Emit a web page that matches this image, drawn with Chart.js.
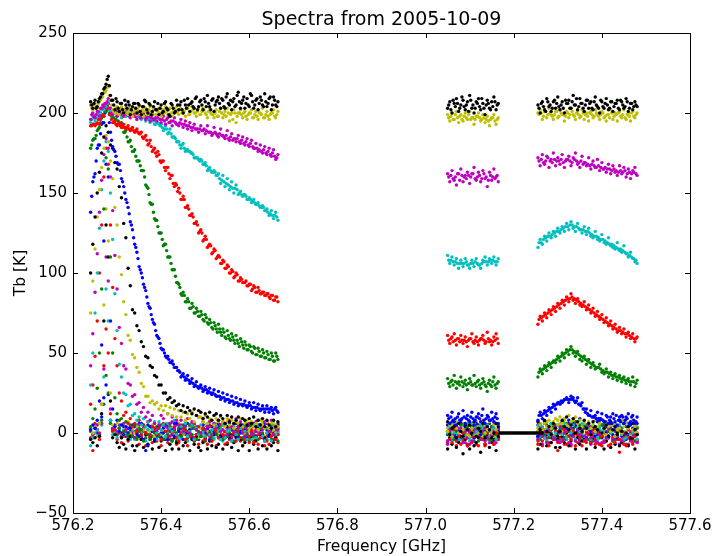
<!DOCTYPE html>
<html lang="en">
<head>
  <meta charset="UTF-8">
  <title>Spectra from 2005-10-09</title>
  <style>
    html, body { margin: 0; padding: 0; background: #fff; }
    #wrap { width: 713px; height: 556px; }
  </style>
</head>
<body>
  <div id="wrap"><canvas id="spectraChart" width="713" height="556"></canvas></div>

  <script src="https://cdn.jsdelivr.net/npm/chart.js"></script>
  <script>
    // frequency channels [GHz] of the three sub-bands
    const FREQ_LEFT = [
      576.240, 576.245, 576.250, 576.255, 576.260, 576.265, 576.270, 576.275, 576.280, 576.285,
      576.290, 576.295, 576.300, 576.305, 576.310, 576.315, 576.320, 576.325, 576.330, 576.335,
      576.340, 576.345, 576.350, 576.355, 576.360, 576.365, 576.370, 576.375, 576.380, 576.385,
      576.390, 576.395, 576.400, 576.405, 576.410, 576.415, 576.420, 576.425, 576.430, 576.435,
      576.440, 576.445, 576.450, 576.455, 576.460, 576.465, 576.470, 576.475, 576.480, 576.485,
      576.490, 576.495, 576.500, 576.505, 576.510, 576.515, 576.520, 576.525, 576.530, 576.535,
      576.540, 576.545, 576.550, 576.555, 576.560, 576.565, 576.570, 576.575, 576.580, 576.585,
      576.590, 576.595, 576.600, 576.605, 576.610, 576.615, 576.620, 576.625, 576.630, 576.635,
      576.640, 576.645, 576.650, 576.655, 576.660, 576.665
    ];
    const FREQ_B1 = [
      577.050, 577.055, 577.060, 577.065, 577.070, 577.075, 577.080, 577.085, 577.090, 577.095,
      577.100, 577.105, 577.110, 577.115, 577.120, 577.125, 577.130, 577.135, 577.140, 577.145,
      577.150, 577.155, 577.160, 577.165
    ];
    const FREQ_B2 = [
      577.255, 577.260, 577.265, 577.270, 577.275, 577.280, 577.285, 577.290, 577.295, 577.300,
      577.305, 577.310, 577.315, 577.320, 577.325, 577.330, 577.335, 577.340, 577.345, 577.350,
      577.355, 577.360, 577.365, 577.370, 577.375, 577.380, 577.385, 577.390, 577.395, 577.400,
      577.405, 577.410, 577.415, 577.420, 577.425, 577.430, 577.435, 577.440, 577.445, 577.450,
      577.455, 577.460, 577.465, 577.470, 577.475, 577.480
    ];
    // in-between channels, only read for the strong spectra
    const FREQ_LEFT_H = [
      576.2425, 576.2475, 576.2525, 576.2575, 576.2625, 576.2675, 576.2725, 576.2775, 576.2825, 576.2875,
      576.2925, 576.2975, 576.3025, 576.3075, 576.3125, 576.3175, 576.3225, 576.3275, 576.3325, 576.3375,
      576.3425, 576.3475, 576.3525, 576.3575, 576.3625, 576.3675, 576.3725, 576.3775, 576.3825, 576.3875,
      576.3925, 576.3975, 576.4025, 576.4075, 576.4125, 576.4175, 576.4225, 576.4275, 576.4325, 576.4375,
      576.4425, 576.4475, 576.4525, 576.4575, 576.4625, 576.4675, 576.4725, 576.4775, 576.4825, 576.4875,
      576.4925, 576.4975, 576.5025, 576.5075, 576.5125, 576.5175, 576.5225, 576.5275, 576.5325, 576.5375,
      576.5425, 576.5475, 576.5525, 576.5575, 576.5625, 576.5675, 576.5725, 576.5775, 576.5825, 576.5875,
      576.5925, 576.5975, 576.6025, 576.6075, 576.6125, 576.6175, 576.6225, 576.6275, 576.6325, 576.6375,
      576.6425, 576.6475, 576.6525, 576.6575, 576.6625
    ];
    const FREQ_B1_H = [
      577.0525, 577.0575, 577.0625, 577.0675, 577.0725, 577.0775, 577.0825, 577.0875, 577.0925, 577.0975,
      577.1025, 577.1075, 577.1125, 577.1175, 577.1225, 577.1275, 577.1325, 577.1375, 577.1425, 577.1475,
      577.1525, 577.1575, 577.1625
    ];
    const FREQ_B2_H = [
      577.2575, 577.2625, 577.2675, 577.2725, 577.2775, 577.2825, 577.2875, 577.2925, 577.2975, 577.3025,
      577.3075, 577.3125, 577.3175, 577.3225, 577.3275, 577.3325, 577.3375, 577.3425, 577.3475, 577.3525,
      577.3575, 577.3625, 577.3675, 577.3725, 577.3775, 577.3825, 577.3875, 577.3925, 577.3975, 577.4025,
      577.4075, 577.4125, 577.4175, 577.4225, 577.4275, 577.4325, 577.4375, 577.4425, 577.4475, 577.4525,
      577.4575, 577.4625, 577.4675, 577.4725, 577.4775
    ];

    // black bar at 0 K between the two upper sub-bands
    const LINE_X = [577.165, 577.265];
    const LINE_Y = [0, 0];

    const X_TICKS = [576.2, 576.4, 576.6, 576.8, 577.0, 577.2, 577.4, 577.6];
    const Y_TICKS = [-50, 0, 50, 100, 150, 200, 250];

    // ---- narrowest spectra (cycle C) ----
    const C_b_left = [3, -1, 4, 0, 6, 10, 22, 30, 24, 8,
      2, 5, -1, 3, 0, 4, -2, 3, 1, 5,
      4, -1, 6, -3, 2, 0, 5, -4, 3, 1,
      -2, 5, 0, 3, -4, 4, 1, -1, 6, -3,
      2, -3, 4, 0, 6, -2, 3, 5, -1, -4,
      -1, 3, -4, 5, 1, -2, 6, 0, 4, -3,
      5, 0, -2, 6, -1, 2, -3, 4, 1, -4,
      1, 4, -3, 0, 5, -4, 3, 2, -2, 6,
      2, -2, 4, 0, -3, 3];
    const C_b_b1 = [-1, 3, -4, 5, 1, -2, 6, 0, 4, -3, 1, 4, -3, 0, 5, -4, 3, 2, -2, 6, 4, -1, 6, -3];
    const C_b_b2 = [5, 0, -2, 6, -1, 2, -3, 4, 1, -4, 2, -3, 4, 0, 6, -2, 3, 5, -1, -4, -2, 5, 0, 3, -4,
      4, 1, -1, 6, -3, 1, 4, -3, 0, 5, -4, 3, 2, -2, 6, 4, -1, 6, -3, 2, 0];

    const C_g_left = [1, -3, 4, 2, -1, 8, 18, 36, 25, 6,
      3, 2, -1, 3, -3, 1, 4, -2, 0, 3,
      1, -4, 3, -1, 5, -3, 2, 4, -2, -5,
      4, -1, -3, 5, -2, 1, -4, 3, 0, -5,
      3, -2, 5, -4, 1, -1, 4, -5, 2, 0,
      0, 3, -4, -1, 4, -5, 2, 1, -3, 5,
      -3, 4, -1, 2, -5, 3, 0, -2, 5, -4,
      -2, 2, -5, 4, 0, -3, 5, -1, 3, -4,
      3, -2, 5, -4, 1, -1];
    const C_g_b1 = [0, 3, -4, -1, 4, -5, 2, 1, -3, 5, -2, 2, -5, 4, 0, -3, 5, -1, 3, -4, 4, -1, -3, 5];
    const C_g_b2 = [-3, 4, -1, 2, -5, 3, 0, -2, 5, -4, 1, -4, 3, -1, 5, -3, 2, 4, -2, -5, 3, -2, 5, -4, 1,
      -1, 4, -5, 2, 0, 4, -1, -3, 5, -2, 1, -4, 3, 0, -5, 0, 3, -4, -1, 4, -5];

    const C_r_left = [-3, -11, 6, 2, -4, 18, 42, 65, 50, 12,
      1, 2, -4, 0, -6, -2, 1, -5, -3, 0,
      -3, 0, -7, -4, 1, -8, -1, -2, -6, 2,
      -5, -1, -8, 1, -3, -6, 2, -4, 0, -7,
      -6, 1, -4, -1, -8, 0, -3, -5, 2, -7,
      0, -5, 2, -7, -2, -4, 1, -8, -1, -3,
      -2, -7, 0, -4, 2, -6, -1, 1, -5, -8,
      1, -4, -6, 2, -5, -2, -7, 0, -3, -8,
      -2, -7, 0, -4, 2, -6];
    const C_r_b1 = [-6, 1, -4, -1, -8, 0, -3, -5, 2, -7, 0, -5, 2, -7, -2, -4, 1, -8, -1, -3, -2, -7, 0, -4];
    const C_r_b2 = [-5, -1, -8, 1, -3, -6, 2, -4, 0, -11, -3, 0, -7, -4, 1, -8, -1, -2, -6, 2, 1, -4, -6, 2, -5,
      -2, -7, 0, -3, -8, 0, -5, 2, -7, -2, -4, 1, -12, -1, -3, -2, -7, 0, -4, 2, -6];

    const C_c_left = [-8, -3, 0, 2, -2, 5, 35, 90, 70, 8,
      -1, 0, -3, 1, -2, 2, -1, 0, -4, 1,
      -4, 5, -2, 0, 3, -5, 2, -1, 4, -3,
      -4, 3, -1, 5, -3, 0, 4, -5, 2, -2,
      5, -3, 1, 2, -5, 4, -1, -4, 3, 0,
      0, 2, -5, 4, -1, 1, -4, 5, -2, 3,
      -5, -2, 4, 2, -3, 5, -1, 3, -4, 1,
      -5, 0, 3, -4, 1, -2, 5, -3, -1, 4,
      -4, 3, -1, 5, -3, 0];
    const C_c_b1 = [0, 2, -5, 4, -1, 1, -4, 5, -2, 3, -5, -2, 4, 2, -3, 5, -1, 3, -4, 1, -4, 5, -2, 0];
    const C_c_b2 = [5, -3, 1, 2, -5, 4, -1, -4, 3, 0, -5, 0, 3, -4, 1, -2, 5, -3, -1, 4, -4, 3, -1, 5, -3,
      0, 4, -5, 2, -2, -5, -2, 4, 2, -3, 5, -1, 3, -4, 1, -4, 5, -2, 0, 3, -5];

    const C_m_left = [2, -1, 3, 5, 0, 6, 40, 110, 95, 15,
      3, 4, 1, 5, -2, 6, 2, -1, 4, 0,
      -3, 2, 5, -2, 3, 0, 7, -1, 1, 6,
      2, 4, -3, 6, 1, 3, -2, 7, 0, 5,
      -2, 5, 1, 7, -1, 2, 6, -3, 4, 0,
      -2, 7, 0, 2, 5, -3, 4, 1, 6, -1,
      7, -1, 3, 4, -3, 6, 1, -2, 5, 2,
      -3, 0, 6, 4, -1, 7, 1, 5, -2, 3,
      7, -1, 3, 4, -3, 6];
    const C_m_b1 = [-7, -4, 2, 0, -5, 3, -3, 1, -6, -1, -7, -2, 1, -6, -1, -4, 3, -5, -3, 2, 3, -5, -1, 0];
    const C_m_b2 = [-2, 0, -7, 2, -3, -1, -6, 3, -4, 1, -6, 3, -4, -2, 1, -7, 0, -3, 2, -5, 3, -5, -1, 0, -7,
      2, -3, -6, 1, -2, -6, 1, -3, 3, -5, -2, 2, -7, 0, -4, -7, -2, 1, -6, -1, -4];

    const C_y_left = [3, 0, 4, -2, 6, 18, 80, 140, 120, 25,
      5, 4, 6, 1, 5, -1, 4, 7, 0, 3,
      0, 4, -3, 6, 2, -1, 7, 1, 5, -2,
      2, 5, -2, 1, 6, -3, 4, 3, -1, 7,
      6, 1, -1, 7, 0, 3, -2, 5, 2, -3,
      3, -2, 5, 1, 7, -1, 4, 6, 0, -3,
      5, 0, 7, -2, 3, 1, 6, -3, 4, 2,
      -1, 6, 1, 4, -3, 5, 2, 0, 7, -2,
      6, 1, -1, 7, 0, 3];
    const C_y_b1 = [3, -2, 5, 1, 7, -1, 4, 6, 0, -3, 6, 1, -1, 7, 0, 3, -2, 5, 2, -3, 2, 5, -2, 1];
    const C_y_b2 = [3, 6, -1, 2, 7, -2, 5, 4, 0, 8, 6, 1, 8, -1, 4, 2, 7, -2, 5, 3, 1, 5, -2, 7, 3,
      0, 8, 2, 6, -1, 0, 7, 2, 5, -2, 6, 3, 1, 8, -1, 7, 2, 0, 8, 1, 4];

    const C_k_left = [-4, -6, -3, -8, -2, 12, 70, 130, 110, 20,
      -3, -1, -6, -9, -3, -7, -10, -4, -2, -8,
      -11, -8, -2, -4, -9, -1, -7, -3, -10, -5,
      -1, -9, -5, -4, -11, -2, -7, -10, -3, -6,
      -10, -1, -8, -6, -3, -11, -4, -7, -2, -9,
      -11, -6, -3, -10, -5, -8, -1, -9, -7, -2,
      -10, -3, -7, -1, -9, -6, -2, -11, -4, -8,
      -6, -4, -11, -2, -7, -5, -10, -1, -8, -3,
      -10, -1, -8, -6, -3, -11];
    const C_k_b1 = [-10, -3, -7, -1, -9, -6, -2, -13, -4, -8, -10, -1, -8, -6, -3, -12, -4, -7, -2, -9, -6, -4, -11, -2];
    const C_k_b2 = [-10, -7, -1, -3, -8, 0, -6, -2, -9, -4, -9, -2, -6, 0, -8, -5, -1, -10, -3, -7, -5, -3, -10, -1, -6,
      -4, -9, 0, -7, -2, -10, -5, -2, -9, -4, -7, 0, -8, -6, -1, 0, -8, -4, -3, -10, -1];

    // ---- medium spectra (cycle B) ----
    const B_b_left = [2, 5, 3, 8, 20, 55, 120, 168, 160, 70,
      15, 4, 8, 1, 5, -1, 4, 0, 3, -2,
      5, 0, -2, 6, -4, -11, -8, 4, 1, -4,
      1, 4, -3, 0, 5, -4, 3, 2, -2, 6,
      1, 3, -4, 5, 0, 2, -3, 6, -1, 4,
      -2, 5, 0, 3, -4, 4, 1, -1, 6, -3,
      -4, 1, 4, -3, 2, -1, 6, -2, 0, 5,
      2, -3, 4, 0, 6, -2, 3, 5, -1, -4,
      6, -2, 2, 3, -4, 5];
    const B_b_b1 = [5, 0, 7, -2, 3, 1, 6, -3, 4, 2, 0, 4, -3, 6, 2, -1, 7, 1, 5, -2, -2, 7, 0, 2];
    const B_b_b2 = [-2, 5, 1, 7, -1, 2, 6, -3, 4, 0, 4, 7, 0, 3, 8, -1, 6, 5, 1, 9, 2, 4, -3, 6, 1,
      3, -2, 7, 0, 5, 5, 0, -2, 6, -1, 2, -3, 4, 1, -4, -4, -1, 5, 3, -2, 6];

    const B_g_left = [4, 9, 15, 28, 50, 90, 140, 172, 165, 110,
      50, 22, 12, 8, 9, 1, 7, -1, 5, -2,
      5, -3, 1, 2, -5, 4, -1, -4, 3, 0,
      3, -2, 5, -4, 1, -1, 4, -5, 2, 0,
      -5, -2, 4, 2, -3, 5, -1, 3, -4, 1,
      -2, 2, -5, 4, 0, -3, 5, -1, 3, -4,
      -4, 5, -2, 0, 3, -5, 2, -1, 4, -3,
      4, -1, -3, 5, -2, 1, -4, 3, 0, -5,
      0, 3, -4, -1, 4, -5];
    const B_g_b1 = [-5, 0, 3, -4, 1, -2, 5, -3, -1, 4, -3, 4, -1, 2, -5, 3, 0, -2, 5, -4, -4, 3, -1, 5];
    const B_g_b2 = [1, -4, 3, -1, 5, -3, 2, 4, -2, -5, 2, 4, -3, 6, 1, 3, -2, 7, 0, 5, 0, 3, -4, -1, 4,
      -5, 2, 1, -3, 5, 5, -3, 1, 2, -5, 4, -1, -4, 3, 0, -3, 4, -1, 2, -5, 3];

    const B_r_left = [18, 30, 48, 70, 100, 130, 160, 178, 168, 130,
      91, 59, 42, 25, 20, 11, 13, 6, 9, 4,
      6, 1, 8, -1, 5, 0, 7, -2, 4, 3,
      -1, 3, -4, 5, 1, -2, 6, 0, 4, -3,
      -5, 0, 3, -4, 1, -2, 5, -3, -1, 4,
      0, 3, -4, -1, 4, -5, 2, 1, -3, 5,
      -1, 1, -6, 3, -2, 0, -5, 4, -3, 2,
      -4, 3, -2, 1, -6, 2, -1, -3, 4, -5,
      -5, 2, -2, 4, -4, -1];
    const B_r_b1 = [1, -4, -6, 2, -5, -2, -7, 0, -3, -8, 2, -6, -2, -1, -8, 1, -4, -7, 0, -3, -2, -7, 0, -4];
    const B_r_b2 = [-7, 2, -5, -3, 0, -8, -1, -4, 1, -6, 0, -5, 2, -7, -2, -4, 1, -8, -1, -3, -8, -5, 1, -1, -6,
      2, -4, 0, -7, -2, -5, -1, -8, 1, -3, -6, 2, -4, 0, -7, -8, -3, 0, -7, -2, -5];

    const B_c_left = [30, 50, 75, 100, 128, 152, 170, 182, 176, 150,
      121, 87, 64, 43, 35, 25, 24, 17, 18, 11,
      12, 8, 10, 5, 9, 4, 7, 8, 2, 7,
      0, 7, 2, 5, -2, 6, 3, 1, 8, -1,
      -3, 4, 0, 6, -2, 1, 5, -4, 3, -1,
      5, 0, -2, 6, -1, 2, -3, 4, 1, -4,
      5, -3, 1, 2, -5, 4, -1, -4, 3, 0,
      1, -4, 3, -1, 5, -3, 2, 4, -2, -5,
      0, 2, -5, 4, -1, 1];
    const B_c_b1 = [1, 4, -3, 0, 5, -4, 3, 2, -2, 6, -3, 6, -1, 1, 4, -4, 3, 0, 5, -2, -1, 3, -4, 5];
    const B_c_b2 = [-4, 1, 4, -3, 2, -1, 6, -2, 0, 5, 4, -1, 6, -3, 2, 0, 5, -4, 3, 1, 6, -2, 2, 3, -4,
      5, 0, -3, 4, 1, 2, -3, 4, 0, 6, -2, 3, 5, -1, -4, -3, 6, -1, 1, 4, -4];

    const B_m_left = [42, 62, 88, 112, 138, 158, 174, 184, 178, 160,
      139, 111, 90, 66, 56, 42, 40, 31, 30, 23,
      24, 18, 19, 13, 16, 10, 13, 8, 11, 6,
      2, 5, 11, 9, 4, 12, 6, 10, 3, 8,
      5, 8, 1, 4, 9, 0, 7, 6, 2, 10,
      0, 9, 2, 4, 7, -1, 6, 3, 8, 1,
      2, 6, -1, 8, 4, 1, 9, 3, 7, 0,
      -2, 3, 6, -1, 4, 1, 8, 0, 2, 7,
      6, 1, 8, -1, 4, 2];
    const B_m_b1 = [-5, 2, -2, 4, -4, -1, 3, -6, 1, -3, 0, -5, 2, -2, 4, -4, 1, 3, -3, -6, -1, 1, -6, 3];
    const B_m_b2 = [-4, 3, -2, 1, -6, 2, -1, -3, 4, -5, 4, -4, 0, 1, -6, 3, -2, -5, 2, -1, 3, -2, -4, 4, -3,
      0, -5, 2, -1, -6, -6, -3, 3, 1, -4, 4, -2, 2, -5, 0, -1, 2, -5, -2, 3, -6];

    const B_y_left = [75, 95, 115, 135, 152, 166, 178, 186, 182, 170,
      159, 141, 130, 110, 99, 82, 74, 61, 58, 49,
      47, 41, 38, 31, 29, 23, 23, 19, 20, 18,
      19, 15, 17, 14, 17, 12, 16, 11, 15, 10,
      14, 10, 13, 8, 12, 9, 13, 7, 11, 10,
      10, 7, 11, 6, 9, 8, 5, 9, 7, 10,
      7, 4, 9, 5, 8, 3, 7, 6, 9, 4,
      6, 8, 3, 7, 4, 6, 2, 8, 5, 3,
      7, 3, 6, 2, 5, 4];
    const B_y_b1 = [1, 5, -2, 7, 3, 0, 8, 2, 6, -1, -2, 3, 6, -1, 4, 1, 8, 0, 2, 7, 0, 7, 2, 5];
    const B_y_b2 = [1, 5, 2, 6, 4, 8, 3, 7, 9, 5, 10, 6, 9, 5, 11, 7, 8, 10, 6, 8, 4, 7, 2, 6, 3,
      5, 1, 4, 6, 0, 3, -1, 4, 1, 5, -2, 2, 3, 0, 4, 1, 3, -2, 2, 4, 0];

    const B_k_left = [100, 118, 135, 150, 163, 175, 185, 192, 188, 180,
      178, 169, 165, 154, 147, 131, 122, 103, 92, 77,
      75, 67, 64, 57, 54, 48, 47, 42, 41, 36,
      35, 30, 30, 25, 25, 21, 22, 19, 20, 17,
      18, 14, 17, 13, 16, 14, 12, 15, 11, 14,
      13, 9, 12, 10, 13, 8, 11, 12, 8, 11,
      9, 6, 11, 7, 10, 6, 8, 10, 5, 9,
      8, 5, 9, 6, 10, 4, 8, 5, 9, 4,
      8, 5, 3, 8, 4, 7];
    const B_k_b1 = [7, -1, 3, 4, -3, 6, 1, -2, 5, 2, 5, 0, 7, -2, 3, 1, 6, -3, 4, 2, -3, 0, 6, 4];
    const B_k_b2 = [7, 2, 0, 8, 1, 4, -1, 6, 3, -2, 1, 8, 4, 10, 2, 5, 9, 0, 7, 3, 1, 8, 3, 6, -1,
      7, 4, 2, 9, 0, 3, 5, -2, 7, 2, 4, -1, 8, 1, 6, 0, 4, -3, 6, 2, -1];

    // ---- widest spectra (cycle A), main and in-between channels ----
    const A_b_left = [138, 157, 162, 178, 180, 193, 194, 204, 206, 188,
      179, 176, 169, 168, 159, 154, 146, 141, 132, 127,
      118, 113, 104, 100, 93, 89, 81, 78, 71, 68,
      61, 59, 53, 52, 48, 48, 44, 45, 41, 41,
      39, 35, 37, 33, 36, 31, 34, 29, 32, 28,
      30, 26, 29, 25, 28, 24, 27, 23, 26, 21,
      25, 20, 24, 19, 23, 18, 22, 17, 21, 17,
      20, 16, 19, 15, 19, 14, 18, 14, 17, 13,
      17, 13, 16, 12, 16, 13];
    const A_b_b1 = [11, 6, 13, 7, 5, 12, 8, 14, 6, 11, 7, 13, 5, 10, 12, 7, 15, 6, 11, 8, 13, 7, 12, 6];
    const A_b_b2 = [8, 13, 9, 14, 11, 16, 13, 18, 15, 19, 18, 19, 21, 22, 19, 23, 22, 19, 22, 18, 19, 15, 15, 11, 14,
      10, 11, 13, 8, 12, 7, 11, 6, 10, 12, 7, 5, 10, 11, 6, 10, 12, 7, 11, 6, 10];
    const A_b_leftH = [148, 160, 170, 180, 187, 194, 200, 205, 194, 183,
      177, 173, 168, 164, 157, 150, 144, 137, 130, 122,
      116, 109, 102, 97, 91, 85, 79, 74, 69, 64,
      60, 56, 52, 50, 47, 46, 44, 43, 41, 39,
      38, 36, 35, 34, 33, 32, 31, 30, 29, 29,
      28, 27, 27, 26, 25, 25, 24, 23, 23, 22,
      22, 21, 21, 20, 20, 19, 19, 18, 18, 18,
      17, 17, 17, 16, 16, 16, 15, 15, 15, 15,
      15, 15, 14, 15, 14];
    const A_b_b1H = [9, 10, 8, 9, 10, 8, 9, 10, 9, 8, 10, 9, 8, 10, 9, 11, 8, 9, 10, 8, 9, 10, 9];
    const A_b_b2H = [11, 11, 12, 13, 14, 15, 16, 17, 18, 19, 20, 20, 21, 21, 21, 21, 20, 20, 18, 17, 15, 13, 12, 11, 10,
      10, 9, 9, 9, 8, 7, 10, 8, 6, 9, 11, 8, 7, 10, 8, 9, 6, 10, 8, 7];

    const A_g_left = [178, 183, 184, 189, 191, 197, 198, 201, 203, 200,
      199, 195, 198, 193, 194, 188, 189, 182, 183, 176,
      177, 170, 170, 164, 164, 155, 153, 144, 143, 134,
      133, 125, 125, 117, 118, 110, 110, 102, 102, 94,
      93, 87, 88, 82, 84, 78, 81, 75, 78, 73,
      76, 71, 74, 69, 71, 66, 69, 65, 68, 63,
      65, 60, 64, 59, 62, 58, 61, 56, 59, 55,
      57, 52, 55, 51, 54, 49, 53, 48, 52, 47,
      51, 46, 50, 45, 50, 46];
    const A_g_b1 = [34, 29, 33, 36, 28, 32, 35, 29, 33, 27, 34, 30, 36, 29, 33, 28, 34, 30, 26, 33, 29, 35, 28, 32];
    const A_g_b2 = [35, 40, 37, 42, 39, 44, 41, 45, 44, 48, 45, 50, 47, 52, 49, 54, 50, 48, 51, 46, 45, 48, 43, 46, 41,
      44, 40, 41, 43, 38, 37, 40, 35, 38, 34, 37, 33, 36, 32, 35, 31, 34, 30, 35, 29, 33];
    const A_g_leftH = [180, 184, 186, 190, 194, 198, 201, 202, 200, 198,
      197, 196, 195, 193, 191, 188, 185, 182, 179, 176,
      173, 170, 167, 164, 160, 154, 149, 143, 138, 133,
      129, 125, 121, 118, 114, 110, 106, 102, 98, 94,
      91, 86, 86, 82, 82, 78, 79, 75, 76, 73,
      74, 70, 72, 68, 69, 65, 67, 63, 65, 61,
      63, 59, 61, 58, 60, 56, 58, 54, 57, 53,
      55, 52, 54, 50, 53, 49, 51, 48, 50, 47,
      49, 46, 48, 45, 48];
    const A_g_b1H = [31, 32, 30, 32, 31, 30, 32, 31, 30, 31, 32, 30, 31, 32, 30, 31, 32, 29, 31, 30, 32, 30, 31];
    const A_g_b2H = [38, 39, 40, 41, 42, 43, 44, 45, 46, 47, 48, 49, 50, 51, 52, 52, 51, 50, 49, 48, 47, 46, 45, 44, 43,
      42, 41, 41, 40, 39, 38, 38, 37, 36, 36, 35, 35, 34, 34, 33, 33, 32, 32, 32, 31];

    const A_r_left = [192, 193, 192, 194, 193, 199, 198, 203, 206, 199,
      194, 195, 192, 194, 191, 193, 190, 192, 189, 191,
      188, 190, 187, 188, 184, 186, 180, 183, 176, 178,
      173, 174, 169, 170, 164, 166, 159, 161, 154, 155,
      153, 146, 148, 141, 142, 136, 137, 131, 132, 125,
      127, 120, 123, 116, 118, 112, 115, 109, 111, 106,
      108, 103, 105, 100, 102, 97, 100, 95, 97, 94,
      94, 92, 93, 89, 92, 88, 91, 87, 88, 86,
      87, 85, 86, 83, 85, 82];
    const A_r_b1 = [61, 56, 60, 62, 55, 59, 61, 56, 60, 54, 59, 62, 56, 60, 55, 59, 61, 56, 63, 57, 55, 60, 62, 56];
    const A_r_b2 = [68, 73, 70, 75, 72, 77, 74, 79, 76, 81, 78, 83, 80, 85, 82, 87, 83, 81, 84, 80, 79, 82, 77, 80, 75,
      78, 73, 76, 71, 74, 69, 72, 67, 70, 65, 68, 63, 66, 62, 65, 60, 63, 59, 62, 57, 60];
    const A_r_leftH = [192, 193, 193, 196, 196, 199, 202, 204, 199, 196,
      194, 193, 193, 192, 192, 191, 191, 190, 190, 189,
      189, 188, 187, 185, 185, 183, 181, 179, 177, 175,
      176, 170, 170, 166, 166, 162, 161, 156, 156, 151,
      150, 146, 146, 141, 140, 136, 135, 131, 130, 126,
      125, 121, 121, 117, 117, 113, 114, 110, 110, 106,
      107, 103, 104, 100, 101, 98, 99, 95, 96, 94,
      95, 92, 93, 90, 91, 88, 89, 87, 88, 86,
      87, 84, 86, 83, 85];
    const A_r_b1H = [58, 59, 57, 58, 59, 57, 58, 58, 57, 58, 59, 57, 58, 57, 58, 59, 58, 57, 59, 58, 57, 58, 59];
    const A_r_b2H = [71, 72, 73, 74, 75, 76, 77, 78, 79, 80, 81, 82, 83, 84, 84, 85, 84, 83, 82, 81, 80, 79, 78, 77, 76,
      75, 74, 73, 72, 71, 70, 69, 68, 67, 66, 65, 64, 64, 63, 62, 62, 61, 60, 59, 59];

    const A_c_left = [194, 198, 195, 199, 198, 202, 202, 204, 207, 202,
      199, 200, 202, 199, 197, 201, 198, 202, 199, 200,
      201, 197, 200, 196, 199, 195, 198, 194, 197, 193,
      194, 193, 193, 189, 192, 187, 190, 185, 185, 182,
      182, 178, 181, 176, 177, 176, 175, 172, 172, 171,
      171, 168, 169, 164, 166, 163, 164, 161, 162, 156,
      161, 154, 159, 152, 157, 150, 155, 149, 151, 148,
      149, 146, 147, 144, 146, 143, 144, 141, 142, 139,
      140, 136, 139, 134, 138, 133];
    const A_c_b1 = [111, 106, 110, 105, 109, 103, 108, 104, 109, 105, 103, 108, 104, 109, 105, 103, 108, 110, 105, 109, 106, 110, 105, 109];
    const A_c_b2 = [116, 121, 118, 123, 120, 125, 122, 126, 123, 128, 125, 129, 126, 131, 127, 132, 128, 126, 131, 127, 125, 129, 124, 128, 123,
      122, 126, 121, 120, 124, 119, 118, 122, 117, 116, 115, 119, 114, 113, 117, 112, 110, 113, 109, 107, 106];
    const A_c_leftH = [196, 197, 197, 199, 200, 203, 204, 206, 202, 200,
      200, 201, 200, 199, 199, 200, 200, 200, 199, 199,
      199, 198, 198, 197, 197, 196, 196, 195, 195, 193,
      194, 192, 191, 190, 190, 188, 187, 185, 184, 182,
      180, 180, 178, 177, 176, 175, 174, 172, 172, 170,
      170, 168, 167, 165, 164, 163, 163, 161, 159, 158,
      157, 156, 155, 154, 153, 153, 152, 150, 149, 149,
      148, 146, 146, 145, 144, 143, 142, 141, 141, 139,
      138, 137, 136, 136, 135];
    const A_c_b1H = [108, 108, 107, 107, 106, 106, 106, 106, 107, 105, 106, 106, 107, 106, 105, 106, 107, 107, 107, 108, 108, 107, 107];
    const A_c_b2H = [119, 119, 121, 122, 123, 123, 124, 125, 126, 126, 127, 128, 129, 129, 130, 130, 129, 129, 128, 127, 127, 126, 126, 125, 124,
      123, 123, 122, 121, 121, 120, 119, 118, 118, 117, 116, 115, 115, 114, 113, 112, 111, 110, 109, 108];

    const A_m_left = [196, 200, 197, 201, 198, 203, 204, 206, 209, 203,
      199, 202, 198, 201, 203, 198, 202, 199, 197, 201,
      198, 196, 201, 197, 200, 196, 200, 195, 199, 196,
      195, 199, 194, 198, 193, 197, 194, 192, 197, 193,
      192, 196, 191, 195, 190, 194, 189, 193, 190, 188,
      192, 189, 187, 192, 188, 186, 191, 187, 185, 190,
      186, 184, 189, 183, 187, 184, 182, 186, 181, 185,
      180, 184, 179, 183, 178, 181, 176, 180, 175, 179,
      174, 178, 173, 177, 171, 174];
    const A_m_b1 = [162, 157, 164, 158, 155, 162, 165, 157, 161, 163, 156, 162, 166, 158, 163, 157, 164, 159, 154, 163, 158, 165, 160, 157];
    const A_m_b2 = [172, 167, 174, 168, 173, 166, 171, 175, 167, 172, 168, 174, 166, 171, 173, 167, 172, 175, 168, 166, 173, 169, 167, 172, 165,
      170, 166, 171, 164, 169, 165, 163, 168, 162, 167, 163, 161, 167, 162, 166, 160, 165, 159, 164, 166, 161];
    const A_m_leftH = [199, 198, 199, 201, 203, 205, 206, 207, 203, 200,
      200, 201, 200, 199, 200, 201, 199, 198, 199, 200,
      198, 199, 197, 199, 198, 197, 198, 197, 196, 197,
      197, 196, 196, 195, 196, 194, 195, 195, 194, 193,
      194, 193, 193, 192, 192, 191, 191, 190, 190, 190,
      189, 190, 189, 188, 188, 187, 188, 186, 187, 186,
      185, 186, 184, 185, 183, 184, 184, 182, 183, 181,
      182, 180, 181, 179, 178, 178, 177, 176, 177, 175,
      176, 174, 175, 173, 172];
    const A_m_b1H = [160, 161, 159, 160, 162, 158, 161, 160, 159, 161, 160, 162, 159, 160, 161, 159, 162, 160, 158, 161, 160, 159, 161];
    const A_m_b2H = [170, 171, 169, 170, 172, 170, 169, 171, 170, 170, 171, 169, 170, 171, 170, 169, 171, 170, 169, 170, 168, 169, 168, 167, 168,
      167, 166, 167, 166, 165, 166, 165, 165, 164, 165, 164, 163, 164, 163, 164, 162, 163, 162, 163, 162];

    const A_y_left = [205, 202, 206, 203, 207, 210, 213, 214, 217, 208,
      202, 200, 204, 199, 204, 200, 203, 199, 203, 198,
      203, 199, 204, 200, 198, 203, 199, 204, 200, 203,
      199, 203, 198, 202, 204, 199, 203, 198, 202, 204,
      199, 203, 200, 198, 203, 199, 204, 200, 198, 203,
      199, 203, 200, 197, 203, 199, 197, 202, 198, 203,
      197, 201, 203, 195, 200, 202, 194, 200, 202, 197,
      201, 196, 200, 202, 197, 201, 196, 200, 203, 197,
      201, 196, 200, 202, 197, 201];
    const A_y_b1 = [199, 195, 200, 196, 201, 194, 199, 195, 200, 196, 201, 197, 193, 198, 200, 195, 199, 194, 198, 192, 197, 199, 193, 197];
    const A_y_b2 = [200, 202, 196, 201, 197, 203, 199, 196, 201, 197, 202, 199, 195, 201, 197, 203, 199, 196, 201, 197, 202, 196, 200, 195, 201,
      197, 202, 199, 196, 201, 197, 195, 199, 202, 196, 200, 195, 201, 197, 202, 196, 200, 195, 201, 197, 200];
    const A_y_leftH = [203, 205, 204, 206, 208, 210, 213, 216, 211, 205,
      201, 203, 200, 202, 201, 202, 200, 202, 200, 201,
      201, 202, 199, 202, 201, 200, 202, 201, 203, 199,
      201, 200, 202, 200, 201, 202, 200, 201, 202, 200,
      202, 200, 201, 203, 199, 201, 202, 200, 201, 199,
      201, 202, 199, 201, 200, 199, 200, 198, 201, 200,
      199, 198, 200, 199, 196, 200, 198, 200, 199, 200,
      198, 199, 200, 197, 199, 198, 200, 199, 197, 199,
      198, 199, 200, 198, 199];
    const A_y_b1H = [197, 198, 196, 199, 197, 198, 196, 198, 197, 199, 196, 197, 196, 198, 197, 196, 197, 196, 195, 196, 197, 195, 196];
    const A_y_b2H = [199, 200, 198, 201, 199, 200, 198, 199, 201, 198, 200, 199, 198, 200, 199, 201, 198, 200, 199, 198, 200, 199, 198, 200, 199,
      198, 200, 198, 199, 200, 198, 199, 197, 200, 198, 199, 200, 198, 199, 197, 199, 198, 200, 198, 199];

    const A_k_left = [207, 203, 208, 204, 209, 212, 215, 218, 223, 211,
      208, 202, 207, 201, 206, 200, 205, 207, 199, 204,
      206, 200, 205, 199, 204, 207, 200, 205, 201, 207,
      202, 199, 205, 201, 207, 202, 198, 205, 200, 208,
      202, 207, 200, 205, 209, 201, 207, 203, 210, 204,
      208, 202, 207, 211, 204, 208, 201, 207, 210, 203,
      208, 203, 212, 205, 202, 209, 205, 213, 203, 208,
      203, 209, 204, 211, 203, 208, 202, 210, 205, 212,
      204, 209, 202, 210, 205, 207];
    const A_k_b1 = [203, 207, 200, 206, 209, 201, 205, 208, 202, 207, 211, 203, 200, 207, 209, 202, 206, 199, 208, 203, 207, 210, 202, 206];
    const A_k_b2 = [205, 200, 207, 202, 209, 204, 201, 207, 203, 210, 202, 207, 200, 206, 208, 203, 211, 205, 202, 209, 206, 201, 208, 203, 207,
      202, 210, 204, 200, 207, 203, 209, 202, 207, 201, 206, 208, 202, 207, 203, 209, 201, 206, 202, 207, 204];
    const A_k_leftH = [205, 206, 203, 207, 210, 212, 216, 221, 217, 208,
      205, 209, 203, 206, 202, 208, 203, 205, 202, 206,
      203, 206, 201, 204, 208, 202, 206, 199, 204, 202,
      206, 203, 200, 206, 203, 199, 206, 203, 201, 205,
      205, 202, 208, 203, 205, 206, 204, 209, 202, 207,
      205, 209, 204, 206, 202, 209, 205, 208, 206, 209,
      204, 210, 206, 208, 207, 204, 211, 207, 206, 210,
      206, 205, 212, 207, 205, 209, 206, 208, 204, 207,
      206, 210, 205, 208, 204];
    const A_k_b1H = [205, 202, 208, 204, 206, 203, 210, 204, 205, 201, 208, 205, 203, 206, 204, 209, 203, 205, 206, 202, 204, 207, 205];
    const A_k_b2H = [203, 206, 204, 201, 207, 205, 203, 208, 206, 204, 205, 203, 208, 206, 203, 207, 205, 209, 204, 206, 203, 205, 208, 206, 203,
      207, 205, 203, 208, 204, 206, 205, 203, 207, 204, 206, 203, 208, 205, 204, 207, 203, 206, 204, 205];

    // matplotlib classic colour cycle
    const COLORS = { b: '#0000ff', g: '#008000', r: '#ff0000', c: '#00bfbf', m: '#bf00bf', y: '#bfbf00', k: '#000000' };

    // plotting order (last one ends up on top)
    const SPECTRA = [
      ['b', C_b_left, C_b_b1, C_b_b2], ['g', C_g_left, C_g_b1, C_g_b2], ['r', C_r_left, C_r_b1, C_r_b2],
      ['c', C_c_left, C_c_b1, C_c_b2], ['m', C_m_left, C_m_b1, C_m_b2], ['y', C_y_left, C_y_b1, C_y_b2],
      ['k', C_k_left, C_k_b1, C_k_b2],
      ['b', B_b_left, B_b_b1, B_b_b2], ['g', B_g_left, B_g_b1, B_g_b2], ['r', B_r_left, B_r_b1, B_r_b2],
      ['c', B_c_left, B_c_b1, B_c_b2], ['m', B_m_left, B_m_b1, B_m_b2], ['y', B_y_left, B_y_b1, B_y_b2],
      ['k', B_k_left, B_k_b1, B_k_b2],
      ['b', A_b_left, A_b_b1, A_b_b2, A_b_leftH, A_b_b1H, A_b_b2H],
      ['g', A_g_left, A_g_b1, A_g_b2, A_g_leftH, A_g_b1H, A_g_b2H],
      ['r', A_r_left, A_r_b1, A_r_b2, A_r_leftH, A_r_b1H, A_r_b2H],
      ['c', A_c_left, A_c_b1, A_c_b2, A_c_leftH, A_c_b1H, A_c_b2H],
      ['m', A_m_left, A_m_b1, A_m_b2, A_m_leftH, A_m_b1H, A_m_b2H],
      ['y', A_y_left, A_y_b1, A_y_b2, A_y_leftH, A_y_b1H, A_y_b2H],
      ['k', A_k_left, A_k_b1, A_k_b2, A_k_leftH, A_k_b1H, A_k_b2H]
    ];

    function zip(freqs, vals) {
      const out = [];
      if (!vals) return out;
      const n = Math.min(freqs.length, vals.length);
      for (let i = 0; i < n; i++) out.push({ x: freqs[i], y: vals[i] });
      return out;
    }

    const FONT = 'DejaVu Sans';
    Chart.defaults.font.family = FONT;
    Chart.defaults.color = '#000';

    const pointSets = SPECTRA.map(([col, left, b1, b2, leftH, b1H, b2H]) => ({
      data: zip(FREQ_LEFT, left).concat(zip(FREQ_B1, b1), zip(FREQ_B2, b2),
        zip(FREQ_LEFT_H, leftH), zip(FREQ_B1_H, b1H), zip(FREQ_B2_H, b2H)),
      showLine: false,
      pointRadius: 1.7,
      pointBorderWidth: 0,
      pointBackgroundColor: COLORS[col],
      backgroundColor: COLORS[col],
      borderColor: COLORS[col]
    }));
    // chart.js draws dataset 0 last, so flip the matplotlib order
    pointSets.reverse();

    const lineSet = {
      type: 'line',
      data: zip(LINE_X, LINE_Y),
      borderColor: '#000',
      borderWidth: 3.5,
      pointRadius: 0,
      fill: false
    };

    // inward ticks on all four sides plus the frame, like matplotlib
    const frameTicks = {
      id: 'frameTicks',
      afterDatasetsDraw(chart) {
        const { ctx, chartArea: a, scales: { x, y } } = chart;
        ctx.save();
        ctx.strokeStyle = '#000';
        ctx.lineWidth = 1;
        ctx.beginPath();
        X_TICKS.forEach(v => {
          const px = Math.round(x.getPixelForValue(v)) + 0.5;
          ctx.moveTo(px, a.bottom); ctx.lineTo(px, a.bottom - 5);
          ctx.moveTo(px, a.top); ctx.lineTo(px, a.top + 5);
        });
        Y_TICKS.forEach(v => {
          const py = Math.round(y.getPixelForValue(v)) + 0.5;
          ctx.moveTo(a.left, py); ctx.lineTo(a.left + 5, py);
          ctx.moveTo(a.right, py); ctx.lineTo(a.right - 5, py);
        });
        ctx.stroke();
        ctx.strokeRect(Math.round(a.left) + 0.5, Math.round(a.top) + 0.5,
          Math.round(a.right - a.left), Math.round(a.bottom - a.top));
        ctx.restore();
      }
    };

    const ctx = document.getElementById('spectraChart').getContext('2d');
    new Chart(ctx, {
      type: 'scatter',
      data: { datasets: [lineSet].concat(pointSets) },
      options: {
        responsive: false,
        animation: false,
        devicePixelRatio: 1,
        events: [],
        layout: { padding: { top: 0, right: 23, bottom: 0, left: 0 } },
        plugins: {
          legend: { display: false },
          tooltip: { enabled: false },
          title: {
            display: true,
            text: 'Spectra from 2005-10-09',
            fullSize: false,
            color: '#000',
            font: { family: FONT, size: 19, weight: 'normal' },
            padding: { top: 9, bottom: 1.2 }
          }
        },
        scales: {
          x: {
            type: 'linear',
            min: 576.2,
            max: 577.6,
            afterBuildTicks: s => { s.ticks = X_TICKS.map(v => ({ value: v })); },
            afterFit: s => { s.height = 43; s.paddingLeft = 0; s.paddingRight = 0; },
            ticks: {
              autoSkip: false,
              maxRotation: 0,
              padding: 4,
              color: '#000',
              font: { family: FONT, size: 15 },
              callback: v => Number(v).toFixed(1)
            },
            grid: { display: false, drawTicks: false },
            border: { display: false },
            title: {
              display: true,
              text: 'Frequency [GHz]',
              color: '#000',
              font: { family: FONT, size: 15.5 },
              padding: { top: 0, bottom: 0 }
            }
          },
          y: {
            type: 'linear',
            min: -50,
            max: 250,
            afterBuildTicks: s => { s.ticks = Y_TICKS.map(v => ({ value: v })); },
            afterFit: s => { s.width = 73; s.paddingTop = 0; s.paddingBottom = 0; },
            ticks: {
              padding: 6,
              color: '#000',
              font: { family: FONT, size: 15 },
              callback: v => (v < 0 ? '\u2212' + Math.abs(v) : String(v))
            },
            grid: { display: false, drawTicks: false },
            border: { display: false },
            title: {
              display: true,
              text: 'Tb [K]',
              color: '#000',
              font: { family: FONT, size: 15.5 },
              padding: { top: 12, bottom: 0 }
            }
          }
        }
      },
      plugins: [frameTicks]
    });
  </script>
</body>
</html>
